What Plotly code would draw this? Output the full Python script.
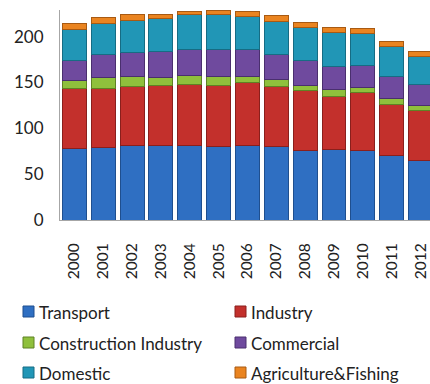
import plotly.graph_objects as go

# Energy use by sector, stacked per year
years = ["2000", "2001", "2002", "2003", "2004", "2005", "2006",
         "2007", "2008", "2009", "2010", "2011", "2012"]

transport = [78, 79.5, 81.5, 81.5, 81.5, 80, 81.5, 80, 75.7, 76.8, 75.7, 70.7, 65]
industry = [65.8, 64.3, 64.1, 65.2, 66, 66.7, 68.5, 65.6, 65.3, 58, 63.3, 55.7, 54]
construction = [8.2, 11.6, 10.4, 8.7, 9.7, 10.3, 7, 7.4, 6, 7.2, 5.6, 5.6, 5.6]
commercial = [21.6, 24.6, 26.6, 28.3, 29, 29, 28.5, 27.8, 26.6, 25.4, 24.4, 24.5, 22.9]
domestic = [34.4, 34.5, 34.8, 35.9, 37.4, 38, 36.2, 36.2, 36.4, 37.3, 34.6, 32.5, 30.5]
agriculture = [5.8, 6.1, 6.9, 5, 4.3, 4, 5.3, 5.8, 5.6, 5.1, 5.4, 5.6, 5.7]

series = [
    ("Transport", transport, "#2f6fc2", "#1f4f8f"),
    ("Industry", industry, "#c3302c", "#8a1f1c"),
    ("Construction Industry", construction, "#8fc03c", "#5f8224"),
    ("Commercial", commercial, "#6f4a9e", "#4a2f6e"),
    ("Domestic", domestic, "#2196b6", "#166c84"),
    ("Agriculture&Fishing", agriculture, "#ea8420", "#a85a12"),
]

FONT = "Lato, 'Open Sans', sans-serif"
W, H = 430, 384
ML, MR, MT, MB = 60, 0, 10, 164

fig = go.Figure()
for name, vals, color, edge in series:
    fig.add_trace(go.Bar(
        x=years, y=vals, name=name,
        marker=dict(color=color, line=dict(color=edge, width=1)),
        showlegend=False,
    ))

fig.update_layout(
    width=W, height=H,
    margin=dict(l=ML, r=MR, t=MT, b=MB),
    barmode="stack",
    bargap=0.17,
    plot_bgcolor="white",
    paper_bgcolor="white",
    font=dict(family=FONT, color="#222222"),
    xaxis=dict(
        range=[-0.5, 12.33],
        tickangle=-90,
        tickfont=dict(size=15.5, color="#222222"),
        showline=True, linecolor="#a6a6a6", linewidth=1,
        ticks="", showgrid=False,
        ticklabelstandoff=16,
    ),
    yaxis=dict(
        range=[0, 229],
        tickvals=[0, 50, 100, 150, 200],
        tickfont=dict(size=17, color="#222222"),
        showline=True, linecolor="#a6a6a6", linewidth=1,
        ticks="", showgrid=False, zeroline=False,
        ticklabelstandoff=12,
    ),
)

# Two-column legend below the chart
pw = W - ML - MR
ph = H - MT - MB


def px_to_paper(px, py):
    return (px - ML) / pw, (H - MB - py) / ph


legend_cols = [23, 235]
legend_rows = [312, 343, 373]
for i, (name, vals, color, edge) in enumerate(series):
    cx = legend_cols[i % 2]
    cy = legend_rows[i // 2]
    x0, y0 = px_to_paper(cx, cy + 5)
    x1, y1 = px_to_paper(cx + 11, cy - 6)
    fig.add_shape(type="rect", xref="paper", yref="paper",
                  x0=x0, y0=y0, x1=x1, y1=y1,
                  fillcolor=color, line=dict(color=edge, width=1))
    tx, ty = px_to_paper(cx + 14, cy)
    fig.add_annotation(xref="paper", yref="paper", x=tx, y=ty,
                       text=name, showarrow=False,
                       xanchor="left", yanchor="middle",
                       font=dict(size=17, color="#222222", family=FONT))

fig.write_html("out.html")
